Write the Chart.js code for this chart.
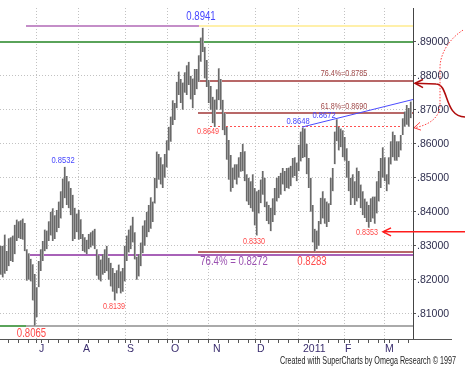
<!DOCTYPE html>
<html><head><meta charset="utf-8">
<script src="https://cdn.jsdelivr.net/npm/chart.js@4/dist/chart.umd.min.js"></script>
<style>html,body{margin:0;padding:0;background:#fff}canvas{display:block}</style>
</head><body>
<canvas id="c" width="465" height="369"></canvas>
<script>
// Daily bars, index 0 = 4 Jun 2010 (one bar per weekday)
const highs = [0.8300,0.8300,0.8333,0.8285,0.8322,0.8325,0.8330,0.8362,0.8377,0.8372,
0.8375,0.8380,0.8367,0.8290,0.8278,0.8262,0.8246,0.8217,0.8178,0.8255,
0.8290,0.8314,0.8348,0.8345,0.8372,0.8400,0.8410,0.8390,0.8405,0.8430,
0.8460,0.8498,0.8532,0.8505,0.8490,0.8470,0.8450,0.8412,0.8395,0.8405,
0.8378,0.8335,0.8325,0.8318,0.8335,0.8340,0.8345,0.8350,0.8290,0.8272,
0.8260,0.8275,0.8290,0.8300,0.8265,0.8250,0.8235,0.8220,0.8228,0.8245,
0.8225,0.8235,0.8300,0.8330,0.8348,0.8360,0.8385,0.8340,0.8268,0.8275,
0.8310,0.8360,0.8375,0.8400,0.8420,0.8443,0.8430,0.8500,0.8577,0.8570,
0.8560,0.8540,0.8570,0.8610,0.8650,0.8680,0.8728,0.8720,0.8782,0.8812,
0.8790,0.8780,0.8810,0.8831,0.8841,0.8800,0.8792,0.8820,0.8820,0.8860,
0.8912,0.8941,0.8885,0.8846,0.8787,0.8770,0.8738,0.8730,0.8760,0.8822,
0.8790,0.8729,0.8690,0.8650,0.8611,0.8567,0.8530,0.8540,0.8540,0.8560,
0.8576,0.8600,0.8578,0.8510,0.8500,0.8490,0.8510,0.8470,0.8460,0.8465,
0.8495,0.8520,0.8500,0.8430,0.8420,0.8412,0.8440,0.8470,0.8500,0.8505,
0.8515,0.8529,0.8520,0.8529,0.8530,0.8535,0.8558,0.8560,0.8545,0.8597,
0.8636,0.8648,0.8645,0.8600,0.8558,0.8500,0.8420,0.8350,0.8345,0.8373,
0.8441,0.8460,0.8440,0.8430,0.8425,0.8500,0.8529,0.8636,0.8672,0.8650,
0.8645,0.8640,0.8620,0.8587,0.8550,0.8500,0.8510,0.8490,0.8530,0.8520,
0.8480,0.8460,0.8439,0.8430,0.8420,0.8440,0.8445,0.8445,0.8490,0.8520,
0.8558,0.8590,0.8560,0.8510,0.8560,0.8607,0.8636,0.8626,0.8607,0.8607,
0.8626,0.8675,0.8695,0.8714,0.8705,0.8724];
const lows = [0.8215,0.8207,0.8218,0.8226,0.8240,0.8255,0.8252,0.8275,0.8314,0.8322,
0.8320,0.8318,0.8284,0.8197,0.8200,0.8195,0.8139,0.8065,0.8090,0.8178,
0.8226,0.8255,0.8284,0.8290,0.8314,0.8330,0.8314,0.8320,0.8340,0.8352,
0.8380,0.8410,0.8440,0.8420,0.8410,0.8390,0.8314,0.8320,0.8340,0.8318,
0.8320,0.8285,0.8280,0.8275,0.8290,0.8295,0.8300,0.8290,0.8212,0.8200,
0.8195,0.8215,0.8220,0.8225,0.8200,0.8180,0.8165,0.8139,0.8160,0.8175,
0.8160,0.8165,0.8195,0.8255,0.8280,0.8290,0.8310,0.8260,0.8200,0.8210,
0.8240,0.8278,0.8300,0.8325,0.8340,0.8350,0.8370,0.8424,0.8469,0.8494,
0.8480,0.8470,0.8500,0.8530,0.8580,0.8606,0.8655,0.8670,0.8704,0.8743,
0.8720,0.8700,0.8750,0.8743,0.8773,0.8730,0.8704,0.8743,0.8760,0.8782,
0.8841,0.8870,0.8792,0.8767,0.8720,0.8700,0.8660,0.8649,0.8700,0.8728,
0.8700,0.8640,0.8625,0.8553,0.8494,0.8459,0.8470,0.8494,0.8480,0.8500,
0.8518,0.8519,0.8490,0.8430,0.8420,0.8410,0.8400,0.8360,0.8330,0.8395,
0.8425,0.8450,0.8413,0.8373,0.8363,0.8343,0.8370,0.8390,0.8430,0.8440,
0.8450,0.8480,0.8460,0.8470,0.8468,0.8475,0.8500,0.8505,0.8490,0.8519,
0.8548,0.8558,0.8560,0.8510,0.8470,0.8400,0.8310,0.8283,0.8290,0.8300,
0.8363,0.8380,0.8365,0.8355,0.8370,0.8420,0.8460,0.8540,0.8607,0.8580,
0.8590,0.8560,0.8550,0.8500,0.8460,0.8420,0.8440,0.8420,0.8430,0.8440,
0.8410,0.8390,0.8382,0.8370,0.8353,0.8370,0.8380,0.8365,0.8395,0.8430,
0.8470,0.8500,0.8490,0.8460,0.8480,0.8539,0.8560,0.8550,0.8550,0.8560,
0.8580,0.8626,0.8650,0.8656,0.8650,0.8675];

// Axis: month starts (bar index) and their labels, price grid
const monthStarts = [19,41,63,85,106,128,151,172,192];
const monthLabels = ['J','A','S','O','N','D','2011','F','M'];
const firstMonday = 1;
const priceTicks = [0.81,0.82,0.83,0.84,0.85,0.86,0.87,0.88,0.89];

// Annotation levels
const topLine = 0.8947;
const greenLevel = 0.8899;
const fibLevels = [0.8785, 0.8691];
const fibTexts = ['76.4%=0.8785', '61.8%=0.8690'];
const supportDotted = 0.8653;
const lowLevel = 0.8283;
const fib764Low = 0.8273;
const yearLow = 0.8065;
const trendStart = [150.5, 0.8649];
const trendEnd = [206, 0.8730];
const notes = [
  {t:'0.8941', i:100, v:0.8973, c:'#4646ff', s:12},
  {t:'0.8532', i:31, v:0.8552, c:'#4646ff', s:9.5},
  {t:'0.8648', i:148.5, v:0.8665, c:'#4646ff', s:9.5},
  {t:'0.8672', i:161.5, v:0.8682, c:'#4646ff', s:9.5},
  {t:'0.8649', i:103.5, v:0.8636, c:'#ff4a4a', s:9},
  {t:'0.8330', i:126.5, v:0.8314, c:'#ff4a4a', s:9},
  {t:'0.8139', i:56.5, v:0.8122, c:'#ff4a4a', s:9},
  {t:'0.8353', i:183, v:0.8338, c:'#ff4a4a', s:9},
  {t:'0.8065', i:15.25, v:0.8043, c:'#ff4a4a', s:12},
  {t:'0.8283', i:155.5, v:0.8254, c:'#ff4a4a', s:12},
  {t:'76.4% = 0.8272', i:116.5, v:0.8254, c:'#9a50b0', s:12}
];
const fibNoteIdx = 171.5;
const fibNoteOffsets = [0.0022, 0.0019];
const credit = 'Created with SuperCharts by Omega Research \u00A9 1997';

// Arrow paths in (bar index, price) coordinates
const darkArrow = [[207,0.87778],[217.5,0.87757],[224,0.87757],[221.5,0.86788],[232,0.86788]];
const darkHead = [[211,0.8789],[207,0.87778],[211,0.8765]];
const dotArrow = [[231,0.8934],[224.5,0.8910],[219.5,0.8867],[219.5,0.8823],[219.5,0.8714],[219.5,0.8676],[213.5,0.8653],[206.5,0.8647]];
const dotHead = [[209.5,0.8663],[206.5,0.8647],[210,0.8640]];
const redArrow = [[191,0.8341],[232,0.8341]];
const redHead = [[195,0.83527],[191,0.8341],[195,0.83292]];

const weekTicks = [];
for (let i = firstMonday; i <= 206; i += 5) weekTicks.push(i);
const xTicks = Array.from(new Set(weekTicks.concat(monthStarts))).sort((a,b)=>a-b);

const SANS = "'Liberation Sans',Arial,sans-serif";
const SQUEEZE = 0.8;

function narrowText(ctx, text, x, y, sx) {
  ctx.save(); ctx.translate(x, y); ctx.scale(sx, 1); ctx.fillText(text, 0, 0); ctx.restore();
}

const annot = {
  id:'annot',
  beforeDatasetsDraw(chart){
    const ctx = chart.ctx, X = chart.scales.x, Y = chart.scales.y;
    const hl = (v, i0, i1, col, w, dash) => {
      ctx.save(); ctx.strokeStyle = col; ctx.lineWidth = w; ctx.setLineDash(dash||[]);
      const y = Math.round(Y.getPixelForValue(v)) + (w%2 ? 0.5 : 0);
      ctx.beginPath(); ctx.moveTo(X.getPixelForValue(i0), y); ctx.lineTo(X.getPixelForValue(i1), y); ctx.stroke(); ctx.restore();
    };
    hl(topLine, 12.5, 99, '#c48ec8', 2);
    hl(topLine, 99, 206, '#fff0aa', 2);
    hl(greenLevel, -0.5, 206, '#5aa35a', 2);
    fibLevels.forEach(v => hl(v, 98.5, 206, '#b86868', 2));
    hl(supportDotted, 104.5, 200.5, '#ff5050', 1, [2,2]);
    hl(lowLevel, 98.5, 206, '#b86868', 2);
    hl(fib764Low, 12.5, 206, '#a862b8', 2);
    hl(yearLow, -0.5, 12.5, '#5aa35a', 2);
    hl(yearLow, 12.5, 206, '#aaaaaa', 2);
  },
  afterDraw(chart){
    const ctx = chart.ctx, X = chart.scales.x, Y = chart.scales.y;
    const P = (p) => [X.getPixelForValue(p[0]), Y.getPixelForValue(p[1])];
    ctx.save();
    ctx.strokeStyle = '#4a4aff'; ctx.lineWidth = 1;
    ctx.beginPath(); ctx.moveTo(...P(trendStart)); ctx.lineTo(...P(trendEnd)); ctx.stroke();
    ctx.strokeStyle = '#555'; ctx.beginPath();
    ctx.moveTo(X.right, Math.round(X.top)+0.5); ctx.lineTo(452, Math.round(X.top)+0.5); ctx.stroke();
    ctx.strokeStyle = '#b00c0c'; ctx.lineWidth = 1.6;
    ctx.beginPath(); ctx.moveTo(...P(darkArrow[0])); ctx.lineTo(...P(darkArrow[1]));
    ctx.bezierCurveTo(...P(darkArrow[2]), ...P(darkArrow[3]), ...P(darkArrow[4])); ctx.stroke();
    ctx.beginPath(); ctx.moveTo(...P(darkHead[0])); ctx.lineTo(...P(darkHead[1])); ctx.lineTo(...P(darkHead[2])); ctx.stroke();
    ctx.strokeStyle = '#ff4040'; ctx.lineWidth = 1; ctx.setLineDash([1.5,1.5]);
    ctx.beginPath(); ctx.moveTo(...P(dotArrow[0]));
    ctx.bezierCurveTo(...P(dotArrow[1]), ...P(dotArrow[2]), ...P(dotArrow[3]));
    ctx.lineTo(...P(dotArrow[4]));
    ctx.bezierCurveTo(...P(dotArrow[5]), ...P(dotArrow[6]), ...P(dotArrow[7])); ctx.stroke();
    ctx.setLineDash([]);
    ctx.beginPath(); ctx.moveTo(...P(dotHead[0])); ctx.lineTo(...P(dotHead[1])); ctx.lineTo(...P(dotHead[2])); ctx.stroke();
    ctx.strokeStyle = '#ff1c1c'; ctx.lineWidth = 1.5;
    ctx.beginPath(); ctx.moveTo(...P(redArrow[0])); ctx.lineTo(...P(redArrow[1])); ctx.stroke();
    ctx.beginPath(); ctx.moveTo(...P(redHead[0])); ctx.lineTo(...P(redHead[1])); ctx.lineTo(...P(redHead[2])); ctx.stroke();
    ctx.textAlign = 'center'; ctx.textBaseline = 'middle';
    notes.forEach(n => { ctx.fillStyle = n.c; ctx.font = n.s + 'px ' + SANS; const p = P([n.i, n.v]); narrowText(ctx, n.t, p[0], p[1], SQUEEZE); });
    ctx.fillStyle = '#a04a4a'; ctx.font = '9px ' + SANS;
    fibLevels.forEach((v,k) => { const p = P([fibNoteIdx, v + fibNoteOffsets[k]]); narrowText(ctx, fibTexts[k], p[0], p[1], SQUEEZE); });
    ctx.fillStyle = '#222'; ctx.font = '10.5px ' + SANS; ctx.textAlign = 'left';
    const w = ctx.measureText(credit).width;
    narrowText(ctx, credit, 280, 361, Math.min(1, 176 / w));
    ctx.restore();
  }
};

const barData = highs.map((h, i) => ({x: i, y: [lows[i], h]}));

new Chart(document.getElementById('c'), {
  type: 'bar',
  data: { datasets: [{ data: barData, barThickness: 2, backgroundColor: '#a6a6a6', borderColor: '#4c4c4c',
    borderWidth: {left:1, right:0, top:0, bottom:0}, borderSkipped: false, grouped: false }] },
  options: {
    responsive: false, animation: false, devicePixelRatio: 1,
    layout: { padding: { top: 8, left: 0, right: 0, bottom: 0 } },
    plugins: { legend: { display: false }, tooltip: { enabled: false }, title: { display: false } },
    scales: {
      x: {
        type: 'linear', min: -0.5, max: 206, offset: false,
        afterBuildTicks: s => { s.ticks = xTicks.map(v => ({value: v})); },
        afterFit: s => { s.height = 30; },
        ticks: { autoSkip: false, maxRotation: 0, align: 'start', padding: 0, labelOffset: 0,
          font: { family: SANS, size: 10.5 }, color: '#3a2d6e',
          callback: v => { const k = monthStarts.indexOf(v); return k >= 0 ? monthLabels[k] : ''; } },
        grid: { color: c => (c.tick && monthStarts.includes(c.tick.value)) ? '#c2c2c2' : 'rgba(0,0,0,0)',
          tickColor: '#555', tickLength: 4, lineWidth: 1 },
        border: { display: true, color: '#555', width: 1, dash: [1,2] }
      },
      y: {
        position: 'right', min: 0.8026, max: 0.8999,
        afterBuildTicks: s => { s.ticks = priceTicks.map(v => ({value: v})); },
        afterFit: s => { s.width = 52; },
        ticks: { padding: 1, font: { family: SANS, size: 10.5 }, color: '#2e2e4e',
          callback: v => '.' + Number(v).toFixed(5).split('.')[1] },
        grid: { color: '#c2c2c2', tickColor: '#555', tickLength: 3, lineWidth: 1 },
        border: { display: true, color: '#444', width: 1, dash: [1,2] }
      }
    }
  },
  plugins: [annot]
});
</script>
</body></html>
